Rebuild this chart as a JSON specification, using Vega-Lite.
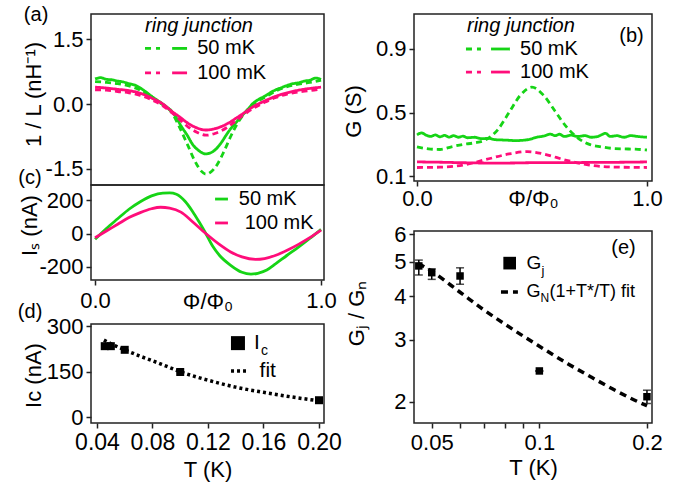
{
"$schema": "https://vega.github.io/schema/vega-lite/v6.json",
"padding": {"left": 17, "top": 4, "right": 5, "bottom": 5},
"config": {
  "font": "Liberation Sans",
  "view": {"stroke": "#222", "strokeWidth": 1.5},
  "axis": {"domain": false, "grid": false, "tickColor": "#222", "tickWidth": 1.5, "tickSize": 5, "labelFontSize": 22, "labelColor": "black", "titleFontSize": 22, "titleFontWeight": "normal", "titleColor": "black", "labelPadding": 3, "labelFlush": false, "labelOverlap": false},
  "text": {"fontSize": 20, "color": "black"}
},
"datasets": {
  "a": [
    {"phi":0,"v":0.58,"temp":"50 mK","style":"solid"},{"phi":0.025,"v":0.61,"temp":"50 mK","style":"solid"},{"phi":0.05,"v":0.57,"temp":"50 mK","style":"solid"},{"phi":0.075,"v":0.56,"temp":"50 mK","style":"solid"},{"phi":0.1,"v":0.53,"temp":"50 mK","style":"solid"},{"phi":0.125,"v":0.51,"temp":"50 mK","style":"solid"},{"phi":0.15,"v":0.47,"temp":"50 mK","style":"solid"},{"phi":0.175,"v":0.44,"temp":"50 mK","style":"solid"},{"phi":0.2,"v":0.37,"temp":"50 mK","style":"solid"},{"phi":0.225,"v":0.28,"temp":"50 mK","style":"solid"},{"phi":0.25,"v":0.18,"temp":"50 mK","style":"solid"},{"phi":0.275,"v":0.09,"temp":"50 mK","style":"solid"},{"phi":0.3,"v":0.0,"temp":"50 mK","style":"solid"},{"phi":0.32,"v":-0.08,"temp":"50 mK","style":"solid"},{"phi":0.34,"v":-0.17,"temp":"50 mK","style":"solid"},{"phi":0.36,"v":-0.32,"temp":"50 mK","style":"solid"},{"phi":0.38,"v":-0.5,"temp":"50 mK","style":"solid"},{"phi":0.41,"v":-0.74,"temp":"50 mK","style":"solid"},{"phi":0.43,"v":-0.92,"temp":"50 mK","style":"solid"},{"phi":0.455,"v":-1.06,"temp":"50 mK","style":"solid"},{"phi":0.49,"v":-1.15,"temp":"50 mK","style":"solid"},{"phi":0.51,"v":-1.13,"temp":"50 mK","style":"solid"},{"phi":0.535,"v":-1.04,"temp":"50 mK","style":"solid"},{"phi":0.56,"v":-0.88,"temp":"50 mK","style":"solid"},{"phi":0.58,"v":-0.72,"temp":"50 mK","style":"solid"},{"phi":0.6,"v":-0.57,"temp":"50 mK","style":"solid"},{"phi":0.625,"v":-0.42,"temp":"50 mK","style":"solid"},{"phi":0.65,"v":-0.27,"temp":"50 mK","style":"solid"},{"phi":0.675,"v":-0.13,"temp":"50 mK","style":"solid"},{"phi":0.7,"v":0.02,"temp":"50 mK","style":"solid"},{"phi":0.725,"v":0.11,"temp":"50 mK","style":"solid"},{"phi":0.75,"v":0.18,"temp":"50 mK","style":"solid"},{"phi":0.775,"v":0.26,"temp":"50 mK","style":"solid"},{"phi":0.8,"v":0.33,"temp":"50 mK","style":"solid"},{"phi":0.825,"v":0.38,"temp":"50 mK","style":"solid"},{"phi":0.85,"v":0.43,"temp":"50 mK","style":"solid"},{"phi":0.875,"v":0.47,"temp":"50 mK","style":"solid"},{"phi":0.9,"v":0.49,"temp":"50 mK","style":"solid"},{"phi":0.925,"v":0.53,"temp":"50 mK","style":"solid"},{"phi":0.95,"v":0.55,"temp":"50 mK","style":"solid"},{"phi":0.975,"v":0.6,"temp":"50 mK","style":"solid"},{"phi":1.0,"v":0.57,"temp":"50 mK","style":"solid"},
    {"phi":0,"v":0.52,"temp":"50 mK","style":"dashed"},{"phi":0.05,"v":0.5,"temp":"50 mK","style":"dashed"},{"phi":0.1,"v":0.47,"temp":"50 mK","style":"dashed"},{"phi":0.15,"v":0.42,"temp":"50 mK","style":"dashed"},{"phi":0.2,"v":0.32,"temp":"50 mK","style":"dashed"},{"phi":0.25,"v":0.15,"temp":"50 mK","style":"dashed"},{"phi":0.3,"v":-0.02,"temp":"50 mK","style":"dashed"},{"phi":0.34,"v":-0.2,"temp":"50 mK","style":"dashed"},{"phi":0.375,"v":-0.55,"temp":"50 mK","style":"dashed"},{"phi":0.41,"v":-0.95,"temp":"50 mK","style":"dashed"},{"phi":0.44,"v":-1.3,"temp":"50 mK","style":"dashed"},{"phi":0.47,"v":-1.55,"temp":"50 mK","style":"dashed"},{"phi":0.49,"v":-1.62,"temp":"50 mK","style":"dashed"},{"phi":0.51,"v":-1.58,"temp":"50 mK","style":"dashed"},{"phi":0.54,"v":-1.4,"temp":"50 mK","style":"dashed"},{"phi":0.57,"v":-1.1,"temp":"50 mK","style":"dashed"},{"phi":0.6,"v":-0.75,"temp":"50 mK","style":"dashed"},{"phi":0.63,"v":-0.45,"temp":"50 mK","style":"dashed"},{"phi":0.66,"v":-0.22,"temp":"50 mK","style":"dashed"},{"phi":0.7,"v":0.0,"temp":"50 mK","style":"dashed"},{"phi":0.75,"v":0.15,"temp":"50 mK","style":"dashed"},{"phi":0.8,"v":0.3,"temp":"50 mK","style":"dashed"},{"phi":0.85,"v":0.4,"temp":"50 mK","style":"dashed"},{"phi":0.9,"v":0.46,"temp":"50 mK","style":"dashed"},{"phi":0.95,"v":0.5,"temp":"50 mK","style":"dashed"},{"phi":1.0,"v":0.55,"temp":"50 mK","style":"dashed"},
    {"phi":0,"v":0.39,"temp":"100 mK","style":"solid"},{"phi":0.05,"v":0.37,"temp":"100 mK","style":"solid"},{"phi":0.1,"v":0.34,"temp":"100 mK","style":"solid"},{"phi":0.15,"v":0.31,"temp":"100 mK","style":"solid"},{"phi":0.2,"v":0.25,"temp":"100 mK","style":"solid"},{"phi":0.25,"v":0.14,"temp":"100 mK","style":"solid"},{"phi":0.3,"v":0.0,"temp":"100 mK","style":"solid"},{"phi":0.34,"v":-0.17,"temp":"100 mK","style":"solid"},{"phi":0.375,"v":-0.3,"temp":"100 mK","style":"solid"},{"phi":0.41,"v":-0.44,"temp":"100 mK","style":"solid"},{"phi":0.45,"v":-0.55,"temp":"100 mK","style":"solid"},{"phi":0.49,"v":-0.6,"temp":"100 mK","style":"solid"},{"phi":0.53,"v":-0.57,"temp":"100 mK","style":"solid"},{"phi":0.59,"v":-0.44,"temp":"100 mK","style":"solid"},{"phi":0.62,"v":-0.34,"temp":"100 mK","style":"solid"},{"phi":0.655,"v":-0.22,"temp":"100 mK","style":"solid"},{"phi":0.7,"v":-0.06,"temp":"100 mK","style":"solid"},{"phi":0.75,"v":0.07,"temp":"100 mK","style":"solid"},{"phi":0.8,"v":0.18,"temp":"100 mK","style":"solid"},{"phi":0.85,"v":0.26,"temp":"100 mK","style":"solid"},{"phi":0.9,"v":0.32,"temp":"100 mK","style":"solid"},{"phi":0.95,"v":0.36,"temp":"100 mK","style":"solid"},{"phi":1.0,"v":0.39,"temp":"100 mK","style":"solid"},
    {"phi":0,"v":0.33,"temp":"100 mK","style":"dashed"},{"phi":0.05,"v":0.32,"temp":"100 mK","style":"dashed"},{"phi":0.1,"v":0.29,"temp":"100 mK","style":"dashed"},{"phi":0.15,"v":0.26,"temp":"100 mK","style":"dashed"},{"phi":0.2,"v":0.2,"temp":"100 mK","style":"dashed"},{"phi":0.25,"v":0.1,"temp":"100 mK","style":"dashed"},{"phi":0.3,"v":-0.04,"temp":"100 mK","style":"dashed"},{"phi":0.34,"v":-0.2,"temp":"100 mK","style":"dashed"},{"phi":0.375,"v":-0.36,"temp":"100 mK","style":"dashed"},{"phi":0.41,"v":-0.52,"temp":"100 mK","style":"dashed"},{"phi":0.45,"v":-0.65,"temp":"100 mK","style":"dashed"},{"phi":0.49,"v":-0.72,"temp":"100 mK","style":"dashed"},{"phi":0.53,"v":-0.68,"temp":"100 mK","style":"dashed"},{"phi":0.59,"v":-0.52,"temp":"100 mK","style":"dashed"},{"phi":0.62,"v":-0.4,"temp":"100 mK","style":"dashed"},{"phi":0.655,"v":-0.26,"temp":"100 mK","style":"dashed"},{"phi":0.7,"v":-0.1,"temp":"100 mK","style":"dashed"},{"phi":0.75,"v":0.04,"temp":"100 mK","style":"dashed"},{"phi":0.8,"v":0.15,"temp":"100 mK","style":"dashed"},{"phi":0.85,"v":0.23,"temp":"100 mK","style":"dashed"},{"phi":0.9,"v":0.28,"temp":"100 mK","style":"dashed"},{"phi":0.95,"v":0.31,"temp":"100 mK","style":"dashed"},{"phi":1.0,"v":0.35,"temp":"100 mK","style":"dashed"}
  ],
  "b": [
    {"phi":0,"v":0.36,"temp":"50 mK","style":"solid"},{"phi":0.02,"v":0.372,"temp":"50 mK","style":"solid"},{"phi":0.04,"v":0.358,"temp":"50 mK","style":"solid"},{"phi":0.06,"v":0.35,"temp":"50 mK","style":"solid"},{"phi":0.08,"v":0.36,"temp":"50 mK","style":"solid"},{"phi":0.1,"v":0.348,"temp":"50 mK","style":"solid"},{"phi":0.12,"v":0.357,"temp":"50 mK","style":"solid"},{"phi":0.14,"v":0.346,"temp":"50 mK","style":"solid"},{"phi":0.16,"v":0.355,"temp":"50 mK","style":"solid"},{"phi":0.18,"v":0.345,"temp":"50 mK","style":"solid"},{"phi":0.2,"v":0.352,"temp":"50 mK","style":"solid"},{"phi":0.22,"v":0.342,"temp":"50 mK","style":"solid"},{"phi":0.25,"v":0.345,"temp":"50 mK","style":"solid"},{"phi":0.28,"v":0.336,"temp":"50 mK","style":"solid"},{"phi":0.31,"v":0.338,"temp":"50 mK","style":"solid"},{"phi":0.34,"v":0.33,"temp":"50 mK","style":"solid"},{"phi":0.37,"v":0.328,"temp":"50 mK","style":"solid"},{"phi":0.4,"v":0.326,"temp":"50 mK","style":"solid"},{"phi":0.43,"v":0.324,"temp":"50 mK","style":"solid"},{"phi":0.46,"v":0.326,"temp":"50 mK","style":"solid"},{"phi":0.49,"v":0.332,"temp":"50 mK","style":"solid"},{"phi":0.52,"v":0.345,"temp":"50 mK","style":"solid"},{"phi":0.55,"v":0.352,"temp":"50 mK","style":"solid"},{"phi":0.58,"v":0.365,"temp":"50 mK","style":"solid"},{"phi":0.6,"v":0.355,"temp":"50 mK","style":"solid"},{"phi":0.62,"v":0.364,"temp":"50 mK","style":"solid"},{"phi":0.64,"v":0.35,"temp":"50 mK","style":"solid"},{"phi":0.67,"v":0.358,"temp":"50 mK","style":"solid"},{"phi":0.7,"v":0.35,"temp":"50 mK","style":"solid"},{"phi":0.73,"v":0.355,"temp":"50 mK","style":"solid"},{"phi":0.76,"v":0.345,"temp":"50 mK","style":"solid"},{"phi":0.79,"v":0.352,"temp":"50 mK","style":"solid"},{"phi":0.82,"v":0.37,"temp":"50 mK","style":"solid"},{"phi":0.84,"v":0.35,"temp":"50 mK","style":"solid"},{"phi":0.87,"v":0.355,"temp":"50 mK","style":"solid"},{"phi":0.9,"v":0.345,"temp":"50 mK","style":"solid"},{"phi":0.93,"v":0.355,"temp":"50 mK","style":"solid"},{"phi":0.96,"v":0.35,"temp":"50 mK","style":"solid"},{"phi":1.0,"v":0.345,"temp":"50 mK","style":"solid"},
    {"phi":0,"v":0.285,"temp":"50 mK","style":"dashed"},{"phi":0.05,"v":0.272,"temp":"50 mK","style":"dashed"},{"phi":0.1,"v":0.268,"temp":"50 mK","style":"dashed"},{"phi":0.15,"v":0.285,"temp":"50 mK","style":"dashed"},{"phi":0.2,"v":0.3,"temp":"50 mK","style":"dashed"},{"phi":0.25,"v":0.31,"temp":"50 mK","style":"dashed"},{"phi":0.3,"v":0.33,"temp":"50 mK","style":"dashed"},{"phi":0.35,"v":0.39,"temp":"50 mK","style":"dashed"},{"phi":0.4,"v":0.5,"temp":"50 mK","style":"dashed"},{"phi":0.45,"v":0.61,"temp":"50 mK","style":"dashed"},{"phi":0.5,"v":0.66,"temp":"50 mK","style":"dashed"},{"phi":0.55,"v":0.61,"temp":"50 mK","style":"dashed"},{"phi":0.6,"v":0.51,"temp":"50 mK","style":"dashed"},{"phi":0.65,"v":0.41,"temp":"50 mK","style":"dashed"},{"phi":0.7,"v":0.34,"temp":"50 mK","style":"dashed"},{"phi":0.75,"v":0.3,"temp":"50 mK","style":"dashed"},{"phi":0.8,"v":0.285,"temp":"50 mK","style":"dashed"},{"phi":0.85,"v":0.275,"temp":"50 mK","style":"dashed"},{"phi":0.9,"v":0.272,"temp":"50 mK","style":"dashed"},{"phi":0.95,"v":0.27,"temp":"50 mK","style":"dashed"},{"phi":1.0,"v":0.265,"temp":"50 mK","style":"dashed"},
    {"phi":0,"v":0.19,"temp":"100 mK","style":"solid"},{"phi":0.1,"v":0.188,"temp":"100 mK","style":"solid"},{"phi":0.2,"v":0.185,"temp":"100 mK","style":"solid"},{"phi":0.3,"v":0.183,"temp":"100 mK","style":"solid"},{"phi":0.4,"v":0.183,"temp":"100 mK","style":"solid"},{"phi":0.5,"v":0.185,"temp":"100 mK","style":"solid"},{"phi":0.6,"v":0.185,"temp":"100 mK","style":"solid"},{"phi":0.7,"v":0.186,"temp":"100 mK","style":"solid"},{"phi":0.8,"v":0.187,"temp":"100 mK","style":"solid"},{"phi":0.9,"v":0.188,"temp":"100 mK","style":"solid"},{"phi":1.0,"v":0.19,"temp":"100 mK","style":"solid"},
    {"phi":0,"v":0.155,"temp":"100 mK","style":"dashed"},{"phi":0.1,"v":0.157,"temp":"100 mK","style":"dashed"},{"phi":0.2,"v":0.17,"temp":"100 mK","style":"dashed"},{"phi":0.3,"v":0.205,"temp":"100 mK","style":"dashed"},{"phi":0.4,"v":0.24,"temp":"100 mK","style":"dashed"},{"phi":0.48,"v":0.255,"temp":"100 mK","style":"dashed"},{"phi":0.55,"v":0.24,"temp":"100 mK","style":"dashed"},{"phi":0.65,"v":0.2,"temp":"100 mK","style":"dashed"},{"phi":0.75,"v":0.17,"temp":"100 mK","style":"dashed"},{"phi":0.85,"v":0.158,"temp":"100 mK","style":"dashed"},{"phi":1.0,"v":0.155,"temp":"100 mK","style":"dashed"}
  ],
  "c": [
    {"phi":0,"v":-35,"temp":"50 mK"},{"phi":0.05,"v":30,"temp":"50 mK"},{"phi":0.1,"v":88,"temp":"50 mK"},{"phi":0.15,"v":145,"temp":"50 mK"},{"phi":0.2,"v":190,"temp":"50 mK"},{"phi":0.25,"v":225,"temp":"50 mK"},{"phi":0.3,"v":242,"temp":"50 mK"},{"phi":0.33,"v":243,"temp":"50 mK"},{"phi":0.36,"v":235,"temp":"50 mK"},{"phi":0.4,"v":190,"temp":"50 mK"},{"phi":0.43,"v":135,"temp":"50 mK"},{"phi":0.46,"v":70,"temp":"50 mK"},{"phi":0.49,"v":0,"temp":"50 mK"},{"phi":0.52,"v":-75,"temp":"50 mK"},{"phi":0.55,"v":-130,"temp":"50 mK"},{"phi":0.6,"v":-190,"temp":"50 mK"},{"phi":0.65,"v":-232,"temp":"50 mK"},{"phi":0.69,"v":-243,"temp":"50 mK"},{"phi":0.72,"v":-238,"temp":"50 mK"},{"phi":0.76,"v":-218,"temp":"50 mK"},{"phi":0.8,"v":-180,"temp":"50 mK"},{"phi":0.85,"v":-130,"temp":"50 mK"},{"phi":0.9,"v":-82,"temp":"50 mK"},{"phi":0.95,"v":-30,"temp":"50 mK"},{"phi":1.0,"v":25,"temp":"50 mK"},
    {"phi":0,"v":-25,"temp":"100 mK"},{"phi":0.05,"v":15,"temp":"100 mK"},{"phi":0.1,"v":55,"temp":"100 mK"},{"phi":0.15,"v":95,"temp":"100 mK"},{"phi":0.2,"v":125,"temp":"100 mK"},{"phi":0.25,"v":148,"temp":"100 mK"},{"phi":0.29,"v":157,"temp":"100 mK"},{"phi":0.33,"v":152,"temp":"100 mK"},{"phi":0.38,"v":128,"temp":"100 mK"},{"phi":0.43,"v":72,"temp":"100 mK"},{"phi":0.49,"v":0,"temp":"100 mK"},{"phi":0.55,"v":-65,"temp":"100 mK"},{"phi":0.6,"v":-110,"temp":"100 mK"},{"phi":0.65,"v":-140,"temp":"100 mK"},{"phi":0.71,"v":-155,"temp":"100 mK"},{"phi":0.75,"v":-150,"temp":"100 mK"},{"phi":0.8,"v":-130,"temp":"100 mK"},{"phi":0.85,"v":-100,"temp":"100 mK"},{"phi":0.9,"v":-65,"temp":"100 mK"},{"phi":0.95,"v":-25,"temp":"100 mK"},{"phi":1.0,"v":20,"temp":"100 mK"}
  ],
  "dpts": [{"T":0.0456,"Ic":234},{"T":0.05,"Ic":234},{"T":0.06,"Ic":222},{"T":0.1,"Ic":149},{"T":0.2,"Ic":56}],
  "dfit": [{"T":0.045,"Ic":254},{"T":0.05,"Ic":242},{"T":0.06,"Ic":222},{"T":0.07,"Ic":203},{"T":0.08,"Ic":186},{"T":0.09,"Ic":168},{"T":0.1,"Ic":150},{"T":0.12,"Ic":122},{"T":0.14,"Ic":99},{"T":0.16,"Ic":82},{"T":0.18,"Ic":67},{"T":0.2,"Ic":54}],
  "epts": [{"T":0.046,"G":4.87,"lo":4.59,"hi":5.06},{"T":0.05,"G":4.66,"lo":4.46,"hi":4.78},{"T":0.06,"G":4.56,"lo":4.32,"hi":4.81},{"T":0.1,"G":2.45,"lo":2.45,"hi":2.45},{"T":0.2,"G":2.07,"lo":1.98,"hi":2.16}],
  "efit": [{"T":0.0458,"G":4.95},{"T":0.05,"G":4.7},{"T":0.06,"G":4.1},{"T":0.07,"G":3.65},{"T":0.08,"G":3.33},{"T":0.09,"G":3.08},{"T":0.1,"G":2.88},{"T":0.12,"G":2.57},{"T":0.14,"G":2.35},{"T":0.16,"G":2.18},{"T":0.18,"G":2.05},{"T":0.2,"G":1.95}]
},
"hconcat": [
 {"vconcat": [
  {"width": 233, "height": 171,
   "layer": [
    {"data": {"name": "a"}, "mark": {"type": "line", "strokeWidth": 2.8, "interpolate": "monotone"},
     "encoding": {
      "x": {"field": "phi", "type": "quantitative", "scale": {"domain": [-0.018, 1.013], "nice": false, "zero": false}, "axis": null},
      "y": {"field": "v", "type": "quantitative", "scale": {"domain": [-1.87, 2.08], "nice": false, "zero": false}, "axis": {"values": [-1.5, 0, 1.5], "labelExpr": "datum.value < 0 ? '-' + format(-datum.value, '.1f') : format(datum.value, '.1f')", "title": "1 / L (nH⁻¹)", "titleX": -58, "titleY": 80, "titleBaseline": "middle"}},
      "color": {"field": "temp", "type": "nominal", "scale": {"domain": ["50 mK", "100 mK"], "range": ["#16d416", "#ff0d7a"]}, "legend": null},
      "strokeDash": {"field": "style", "type": "nominal", "scale": {"domain": ["solid", "dashed"], "range": [[1, 0], [6, 4]]}, "legend": null}
     }},
    {"data": {"values": [{}]}, "mark": {"type": "text", "align": "center", "baseline": "middle", "fontSize": 20, "text": "(a)"}, "encoding": {"x": {"datum": -0.261, "axis": null}, "y": {"datum": 2.05}}},
    {"data": {"values": [{}]}, "mark": {"type": "text", "align": "center", "baseline": "middle", "fontSize": 20, "text": "(c)"}, "encoding": {"x": {"datum": -0.288, "axis": null}, "y": {"datum": -1.71}}},
    {"data": {"values": [{}]}, "mark": {"type": "text", "align": "center", "baseline": "middle", "fontSize": 20, "fontStyle": "italic", "text": "ring junction"}, "encoding": {"x": {"datum": 0.46, "axis": null}, "y": {"datum": 1.8}}},
    {"data": {"values": [{}]}, "mark": {"type": "rule", "strokeWidth": 2.8, "color": "#16d416", "strokeDash": [6, 5, 4, 20]}, "encoding": {"x": {"datum": 0.221, "axis": null}, "x2": {"datum": 0.288}, "y": {"datum": 1.285}}},
    {"data": {"values": [{}]}, "mark": {"type": "rule", "strokeWidth": 2.8, "color": "#16d416"}, "encoding": {"x": {"datum": 0.341, "axis": null}, "x2": {"datum": 0.407}, "y": {"datum": 1.285}}},
    {"data": {"values": [{}]}, "mark": {"type": "rule", "strokeWidth": 2.8, "color": "#ff0d7a", "strokeDash": [6, 5, 4, 20]}, "encoding": {"x": {"datum": 0.221, "axis": null}, "x2": {"datum": 0.288}, "y": {"datum": 0.72}}},
    {"data": {"values": [{}]}, "mark": {"type": "rule", "strokeWidth": 2.8, "color": "#ff0d7a"}, "encoding": {"x": {"datum": 0.341, "axis": null}, "x2": {"datum": 0.407}, "y": {"datum": 0.72}}},
    {"data": {"values": [{}]}, "mark": {"type": "text", "align": "left", "baseline": "middle", "fontSize": 20, "text": "50 mK"}, "encoding": {"x": {"datum": 0.452, "axis": null}, "y": {"datum": 1.285}}},
    {"data": {"values": [{}]}, "mark": {"type": "text", "align": "left", "baseline": "middle", "fontSize": 20, "text": "100 mK"}, "encoding": {"x": {"datum": 0.452, "axis": null}, "y": {"datum": 0.72}}}
   ]},
  {"width": 233, "height": 95,
   "layer": [
    {"data": {"name": "c"}, "mark": {"type": "line", "strokeWidth": 2.8, "interpolate": "monotone"},
     "encoding": {
      "x": {"field": "phi", "type": "quantitative", "scale": {"domain": [-0.018, 1.013], "nice": false, "zero": false}, "axis": {"values": [0, 1], "format": ".1f", "title": "Φ/Φ₀", "titleY": 28, "titleBaseline": "alphabetic", "labelPadding": 5}},
      "y": {"field": "v", "type": "quantitative", "scale": {"domain": [-278, 290], "nice": false, "zero": false}, "axis": {"values": [-200, 0, 200], "labelExpr": "datum.value < 0 ? '-' + format(-datum.value, 'd') : format(datum.value, 'd')", "title": "Iₛ (nA)", "titleX": -62, "titleY": 40, "titleBaseline": "middle"}},
      "color": {"field": "temp", "type": "nominal", "scale": {"domain": ["50 mK", "100 mK"], "range": ["#16d416", "#ff0d7a"]}, "legend": null}
     }},
    {"data": {"values": [{}]}, "mark": {"type": "rule", "strokeWidth": 2.8, "color": "#16d416"}, "encoding": {"x": {"datum": 0.531}, "x2": {"datum": 0.588}, "y": {"datum": 206}}},
    {"data": {"values": [{}]}, "mark": {"type": "rule", "strokeWidth": 2.8, "color": "#ff0d7a"}, "encoding": {"x": {"datum": 0.531}, "x2": {"datum": 0.588}, "y": {"datum": 63}}},
    {"data": {"values": [{}]}, "mark": {"type": "text", "align": "left", "baseline": "middle", "fontSize": 20, "text": "50 mK"}, "encoding": {"x": {"datum": 0.636}, "y": {"datum": 206}}},
    {"data": {"values": [{}]}, "mark": {"type": "text", "align": "left", "baseline": "middle", "fontSize": 20, "text": "100 mK"}, "encoding": {"x": {"datum": 0.662}, "y": {"datum": 63}}}
   ]},
  {"width": 233, "height": 44, "data": {"values": []}, "mark": {"type": "point"}, "view": {"stroke": null}},
  {"width": 233, "height": 99,
   "layer": [
    {"data": {"name": "dfit"}, "mark": {"type": "line", "strokeWidth": 3.5, "color": "black", "strokeDash": [3, 3], "interpolate": "monotone"},
     "encoding": {
      "x": {"field": "T", "type": "quantitative", "scale": {"domain": [0.0357, 0.2036], "nice": false, "zero": false}, "axis": {"values": [0.04, 0.08, 0.12, 0.16, 0.2], "format": ".2f", "title": "T (K)", "titleY": 53, "titleBaseline": "alphabetic", "labelPadding": 3, "labelFontSize": 23}},
      "y": {"field": "Ic", "type": "quantitative", "scale": {"domain": [-19, 307], "nice": false, "zero": false}, "axis": {"values": [0, 150, 300], "title": "Ic (nA)", "titleX": -58, "titleY": 51, "titleBaseline": "middle"}}
     }},
    {"data": {"name": "dpts"}, "mark": {"type": "point", "shape": "square", "filled": true, "color": "black", "size": 64, "opacity": 1},
     "encoding": {"x": {"field": "T", "type": "quantitative"}, "y": {"field": "Ic", "type": "quantitative"}}},
    {"data": {"values": [{}]}, "mark": {"type": "text", "align": "center", "baseline": "middle", "fontSize": 20, "text": "(d)"}, "encoding": {"x": {"datum": -0.0082}, "y": {"datum": 346}}},
    {"data": {"values": [{}]}, "mark": {"type": "point", "shape": "square", "filled": true, "color": "black", "size": 196, "opacity": 1}, "encoding": {"x": {"datum": 0.1416}, "y": {"datum": 244}}},
    {"data": {"values": [{}]}, "mark": {"type": "text", "align": "left", "baseline": "middle", "fontSize": 21, "text": "I"}, "encoding": {"x": {"datum": 0.1532}, "y": {"datum": 244}}},
    {"data": {"values": [{}]}, "mark": {"type": "text", "align": "left", "baseline": "middle", "fontSize": 14, "text": "c", "dx": 7, "dy": 8}, "encoding": {"x": {"datum": 0.1532}, "y": {"datum": 244}}},
    {"data": {"values": [{}]}, "mark": {"type": "rule", "strokeWidth": 3.5, "color": "black", "strokeDash": [3, 3]}, "encoding": {"x": {"datum": 0.1366}, "x2": {"datum": 0.1474}, "y": {"datum": 152}}},
    {"data": {"values": [{}]}, "mark": {"type": "text", "align": "left", "baseline": "middle", "fontSize": 21, "text": "fit"}, "encoding": {"x": {"datum": 0.1572}, "y": {"datum": 152}}}
   ]}
 ], "spacing": 0, "bounds": "flush"},
 {"vconcat": [
  {"width": 238, "height": 167,
   "layer": [
    {"data": {"name": "b"}, "mark": {"type": "line", "strokeWidth": 2.8, "interpolate": "monotone"},
     "encoding": {
      "x": {"field": "phi", "type": "quantitative", "scale": {"domain": [-0.013, 1.022], "nice": false, "zero": false}, "axis": {"values": [0, 1], "format": ".1f", "title": "Φ/Φ₀", "titleY": 24, "titleBaseline": "alphabetic", "labelPadding": 2}},
      "y": {"field": "v", "type": "quantitative", "scale": {"domain": [0.07, 1.12], "nice": false, "zero": false}, "axis": {"values": [0.1, 0.5, 0.9], "format": ".1f", "title": "G (S)", "titleX": -61, "titleY": 97, "titleBaseline": "middle"}},
      "color": {"field": "temp", "type": "nominal", "scale": {"domain": ["50 mK", "100 mK"], "range": ["#16d416", "#ff0d7a"]}, "legend": null},
      "strokeDash": {"field": "style", "type": "nominal", "scale": {"domain": ["solid", "dashed"], "range": [[1, 0], [6, 4]]}, "legend": null}
     }},
    {"data": {"values": [{}]}, "mark": {"type": "text", "align": "center", "baseline": "middle", "fontSize": 20, "fontStyle": "italic", "text": "ring junction"}, "encoding": {"x": {"datum": 0.452}, "y": {"datum": 1.045}}},
    {"data": {"values": [{}]}, "mark": {"type": "text", "align": "center", "baseline": "middle", "fontSize": 20, "text": "(b)"}, "encoding": {"x": {"datum": 0.933}, "y": {"datum": 0.982}}},
    {"data": {"values": [{}]}, "mark": {"type": "rule", "strokeWidth": 2.8, "color": "#16d416", "strokeDash": [6, 5, 4, 20]}, "encoding": {"x": {"datum": 0.213}, "x2": {"datum": 0.287}, "y": {"datum": 0.9}}},
    {"data": {"values": [{}]}, "mark": {"type": "rule", "strokeWidth": 2.8, "color": "#16d416"}, "encoding": {"x": {"datum": 0.322}, "x2": {"datum": 0.404}, "y": {"datum": 0.9}}},
    {"data": {"values": [{}]}, "mark": {"type": "rule", "strokeWidth": 2.8, "color": "#ff0d7a", "strokeDash": [6, 5, 4, 20]}, "encoding": {"x": {"datum": 0.213}, "x2": {"datum": 0.287}, "y": {"datum": 0.755}}},
    {"data": {"values": [{}]}, "mark": {"type": "rule", "strokeWidth": 2.8, "color": "#ff0d7a"}, "encoding": {"x": {"datum": 0.322}, "x2": {"datum": 0.404}, "y": {"datum": 0.755}}},
    {"data": {"values": [{}]}, "mark": {"type": "text", "align": "left", "baseline": "middle", "fontSize": 20, "text": "50 mK"}, "encoding": {"x": {"datum": 0.448}, "y": {"datum": 0.9}}},
    {"data": {"values": [{}]}, "mark": {"type": "text", "align": "left", "baseline": "middle", "fontSize": 20, "text": "100 mK"}, "encoding": {"x": {"datum": 0.448}, "y": {"datum": 0.755}}}
   ]},
  {"width": 238, "height": 50, "data": {"values": []}, "mark": {"type": "point"}, "view": {"stroke": null}},
  {"width": 238, "height": 192,
   "layer": [
    {"data": {"name": "efit"}, "mark": {"type": "line", "strokeWidth": 3.5, "color": "black", "strokeDash": [7, 5], "interpolate": "monotone"},
     "encoding": {
      "x": {"field": "T", "type": "quantitative", "scale": {"type": "log", "domain": [0.0446, 0.2066], "nice": false, "zero": false}, "axis": {"values": [0.05, 0.06, 0.07, 0.08, 0.09, 0.1, 0.2], "labelExpr": "datum.value == 0.05 ? '0.05' : datum.value == 0.1 ? '0.1' : datum.value == 0.2 ? '0.2' : ''", "title": "T (K)", "titleY": 51, "titleBaseline": "alphabetic", "labelPadding": 4, "labelFontSize": 22}},
      "y": {"field": "G", "type": "quantitative", "scale": {"type": "log", "domain": [1.743, 6.12], "nice": false, "zero": false}, "axis": {"values": [2, 3, 4, 5, 6], "format": "d", "title": "Gⱼ / Gₙ", "titleX": -58, "titleY": 82, "titleBaseline": "middle"}}
     }},
    {"data": {"name": "epts"}, "mark": {"type": "rule", "strokeWidth": 1.5, "color": "black"},
     "encoding": {"x": {"field": "T", "type": "quantitative"}, "y": {"field": "lo", "type": "quantitative"}, "y2": {"field": "hi"}}},
    {"data": {"name": "epts"}, "mark": {"type": "tick", "orient": "horizontal", "size": 8, "thickness": 1.5, "color": "black"},
     "encoding": {"x": {"field": "T", "type": "quantitative"}, "y": {"field": "lo", "type": "quantitative"}}},
    {"data": {"name": "epts"}, "mark": {"type": "tick", "orient": "horizontal", "size": 8, "thickness": 1.5, "color": "black"},
     "encoding": {"x": {"field": "T", "type": "quantitative"}, "y": {"field": "hi", "type": "quantitative"}}},
    {"data": {"name": "epts"}, "mark": {"type": "point", "shape": "square", "filled": true, "color": "black", "size": 56, "opacity": 1},
     "encoding": {"x": {"field": "T", "type": "quantitative"}, "y": {"field": "G", "type": "quantitative"}}},
    {"data": {"values": [{}]}, "mark": {"type": "text", "align": "center", "baseline": "middle", "fontSize": 20, "text": "(e)"}, "encoding": {"x": {"datum": 0.172}, "y": {"datum": 5.48}}},
    {"data": {"values": [{}]}, "mark": {"type": "point", "shape": "square", "filled": true, "color": "black", "size": 160, "opacity": 1}, "encoding": {"x": {"datum": 0.0826}, "y": {"datum": 4.96}}},
    {"data": {"values": [{}]}, "mark": {"type": "text", "align": "left", "baseline": "middle", "fontSize": 19, "text": "G"}, "encoding": {"x": {"datum": 0.0921}, "y": {"datum": 4.96}}},
    {"data": {"values": [{}]}, "mark": {"type": "text", "align": "left", "baseline": "middle", "fontSize": 13, "text": "j", "dx": 15, "dy": 8}, "encoding": {"x": {"datum": 0.0921}, "y": {"datum": 4.96}}},
    {"data": {"values": [{}]}, "mark": {"type": "rule", "strokeWidth": 3.5, "color": "black", "strokeDash": [7, 5]}, "encoding": {"x": {"datum": 0.0781}, "x2": {"datum": 0.0871}, "y": {"datum": 4.106}}},
    {"data": {"values": [{}]}, "mark": {"type": "text", "align": "left", "baseline": "middle", "fontSize": 18, "text": "G"}, "encoding": {"x": {"datum": 0.0921}, "y": {"datum": 4.106}}},
    {"data": {"values": [{}]}, "mark": {"type": "text", "align": "left", "baseline": "middle", "fontSize": 12, "text": "N", "dx": 14, "dy": 6}, "encoding": {"x": {"datum": 0.0921}, "y": {"datum": 4.106}}},
    {"data": {"values": [{}]}, "mark": {"type": "text", "align": "left", "baseline": "middle", "fontSize": 18, "text": "(1+T*/T) fit", "dx": 23}, "encoding": {"x": {"datum": 0.0921}, "y": {"datum": 4.106}}}
   ]}
 ], "spacing": 0, "bounds": "flush"}
],
"spacing": -2
}
